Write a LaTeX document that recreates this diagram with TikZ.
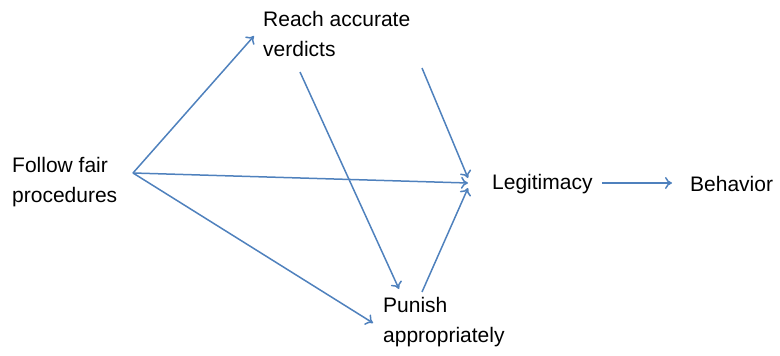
\documentclass[tikz,border=0pt]{standalone}
\usepackage{xcolor}
\usepackage{fontspec}
\setmainfont{Liberation Sans}
\usepackage{tikz}
\usetikzlibrary{arrows.meta,positioning,calc}
\definecolor{linkblue}{RGB}{79,129,189}

\begin{document}
\begin{tikzpicture}[x=1pt, y=-1pt,
        label/.style={inner sep=0pt, anchor=west, align=left, font=\fontsize{21}{30}\selectfont},
        link/.style={draw=linkblue, line width=1.5pt, -{To[length=7pt,width=12pt]}}]
        \useasboundingbox (0,0) rectangle (780,356);
        % Left and top
        \node (follow) [label] at (12,182) {Follow fair\\procedures};
        \node (reach) [label] at (263,34) {Reach accurate\\verdicts};
        
        % Right side
        \node (legit) [label] at (492,184) {Legitimacy};
        \node (behav) [label] at (690,184) {Behavior};
        \node (punish) [label] at (383,322) {Punish\\appropriately};
        \coordinate (free) at (422,68);
        
        % Arrows
        \draw[link] ($(follow.west)+(121,-9)$) -- ($(reach.west)+(-9,2)$);
        \draw[link] ($(follow.west)+(121,-9)$) -- ($(legit.west)+(-24,-1)$);
        \draw[link] ($(follow.west)+(121,-9)$) -- ($(punish.west)+(-10,1)$);
        \draw[link] ($(reach.west)+(37,38)$) -- ($(punish.west)+(16,-33)$);
        \draw[link] (free) -- ($(legit.west)+(-24,-6)$);
        \draw[link] ($(punish.west)+(39,-30)$) -- ($(legit.west)+(-24,4)$);
        \draw[link] ($(legit.east)+(9,-1)$) -- ($(behav.west)+(-18,-1)$);
    \end{tikzpicture}
\end{document}
